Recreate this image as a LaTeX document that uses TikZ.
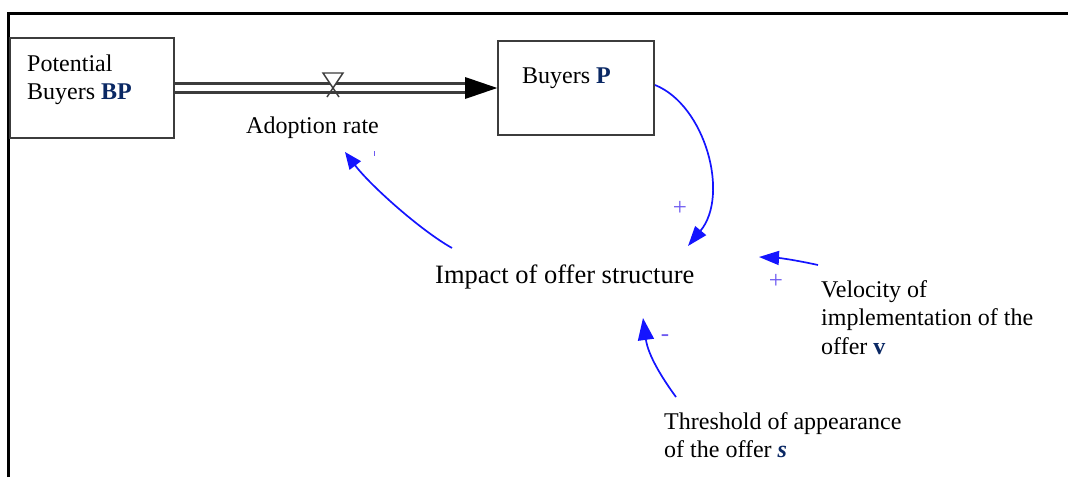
\documentclass[tikz,border=0pt]{standalone}
\usepackage{fontspec}
\setmainfont{Liberation Serif}
\usetikzlibrary{arrows.meta}
\definecolor{navy}{RGB}{10,40,100}
\definecolor{linkc}{RGB}{20,20,255}
\definecolor{signc}{RGB}{110,90,240}
\definecolor{boxc}{RGB}{60,60,60}
\newcommand{\mlines}[1]{\begin{tabular}[t]{@{}l@{}}#1\end{tabular}}
\tikzset{
  stockbox/.style={draw=boxc, line width=1.6pt, rectangle, inner sep=0pt},
  lbl/.style={anchor=base west, inner sep=0pt, font=\fontsize{24}{28.5}\selectfont},
  link/.style={draw=linkc, line width=1.7pt, -{Triangle[length=20pt,width=14pt]}},
  sign/.style={text=signc, inner sep=0pt, font=\fontsize{25}{25}\selectfont},
  pipe/.style={draw=boxc, line width=2.2pt},
}
\begin{document}
\begin{tikzpicture}[x=1pt,y=-1pt]
\useasboundingbox (0,0) rectangle (1068,477);
% frame (top and left)
\draw[line width=3pt] (8,477) -- (8,13) -- (1068,13);
% stocks
\node[stockbox, minimum width=164pt, minimum height=100pt] (pb) at (92,88) {};
\node[stockbox, minimum width=156pt, minimum height=94pt] (bp) at (576,88) {};
\node[lbl] (pbt) at (27,71) {\mlines{Potential\\Buyers \textbf{\color{navy}BP}}};
\node[lbl] (bpt) at (522,83) {Buyers \textbf{\color{navy}P}};
% flow pipe
\coordinate (ah) at (465,88);
\draw[pipe] ([yshift=-4.5pt]pb.east) -- ([yshift=-4.5pt]ah);
\draw[pipe] ([yshift=4.5pt]pb.east) -- ([yshift=4.5pt]ah);
\fill[black] (465,77) -- (bp.west) -- (465,99) -- cycle;
% valve
\coordinate (valve) at (333,88);
\draw[draw=boxc, line width=1.4pt, fill=white] (323,73) -- (343,73) -- (valve) -- cycle;
\draw[draw=boxc, line width=1.4pt] (327,97) -- (valve) -- (339,97);
\node[lbl] (rate) at (246,133) {Adoption rate};
% auxiliaries
\node[lbl, font=\fontsize{26.5}{30}\selectfont] (impact) at (435,283) {Impact of offer structure};
\node[lbl] (vel) at (821,297) {\mlines{Velocity of\\implementation of the\\offer \textbf{\color{navy}v}}};
\node[lbl] (thr) at (664,429) {\mlines{Threshold of appearance\\of the offer \textbf{\itshape\color{navy}s}}};
% links
\coordinate (l1s) at (655,85);
\coordinate (l1e) at (688,246);
\draw[link] (l1s) .. controls (705,105) and (730,195) .. (l1e);
\coordinate (l2s) at (452,248);
\coordinate (l2e) at (345,152);
\draw[link, -{Triangle[length=17pt,width=14pt]}] (l2s) .. controls (420,230) and (370,185) .. (l2e);
\coordinate (l3s) at (818,265);
\coordinate (l3e) at (759,257);
\draw[link] (l3s) .. controls (795,260) and (780,258) .. (l3e);
\coordinate (l4s) at (676,397);
\coordinate (l4e) at (643,318);
\draw[link, -{Triangle[length=22pt,width=16pt]}] (l4s) .. controls (662,378) and (648,355) .. (l4e);
% polarity signs
\node[sign] (s1) at (680,208) {+};
\node[sign] (s2) at (776,281) {+};
\node[sign] (s3) at (665,338) {-};
\draw[signc, line width=0.8pt] (374,151) -- (374,156);
\end{tikzpicture}
\end{document}
